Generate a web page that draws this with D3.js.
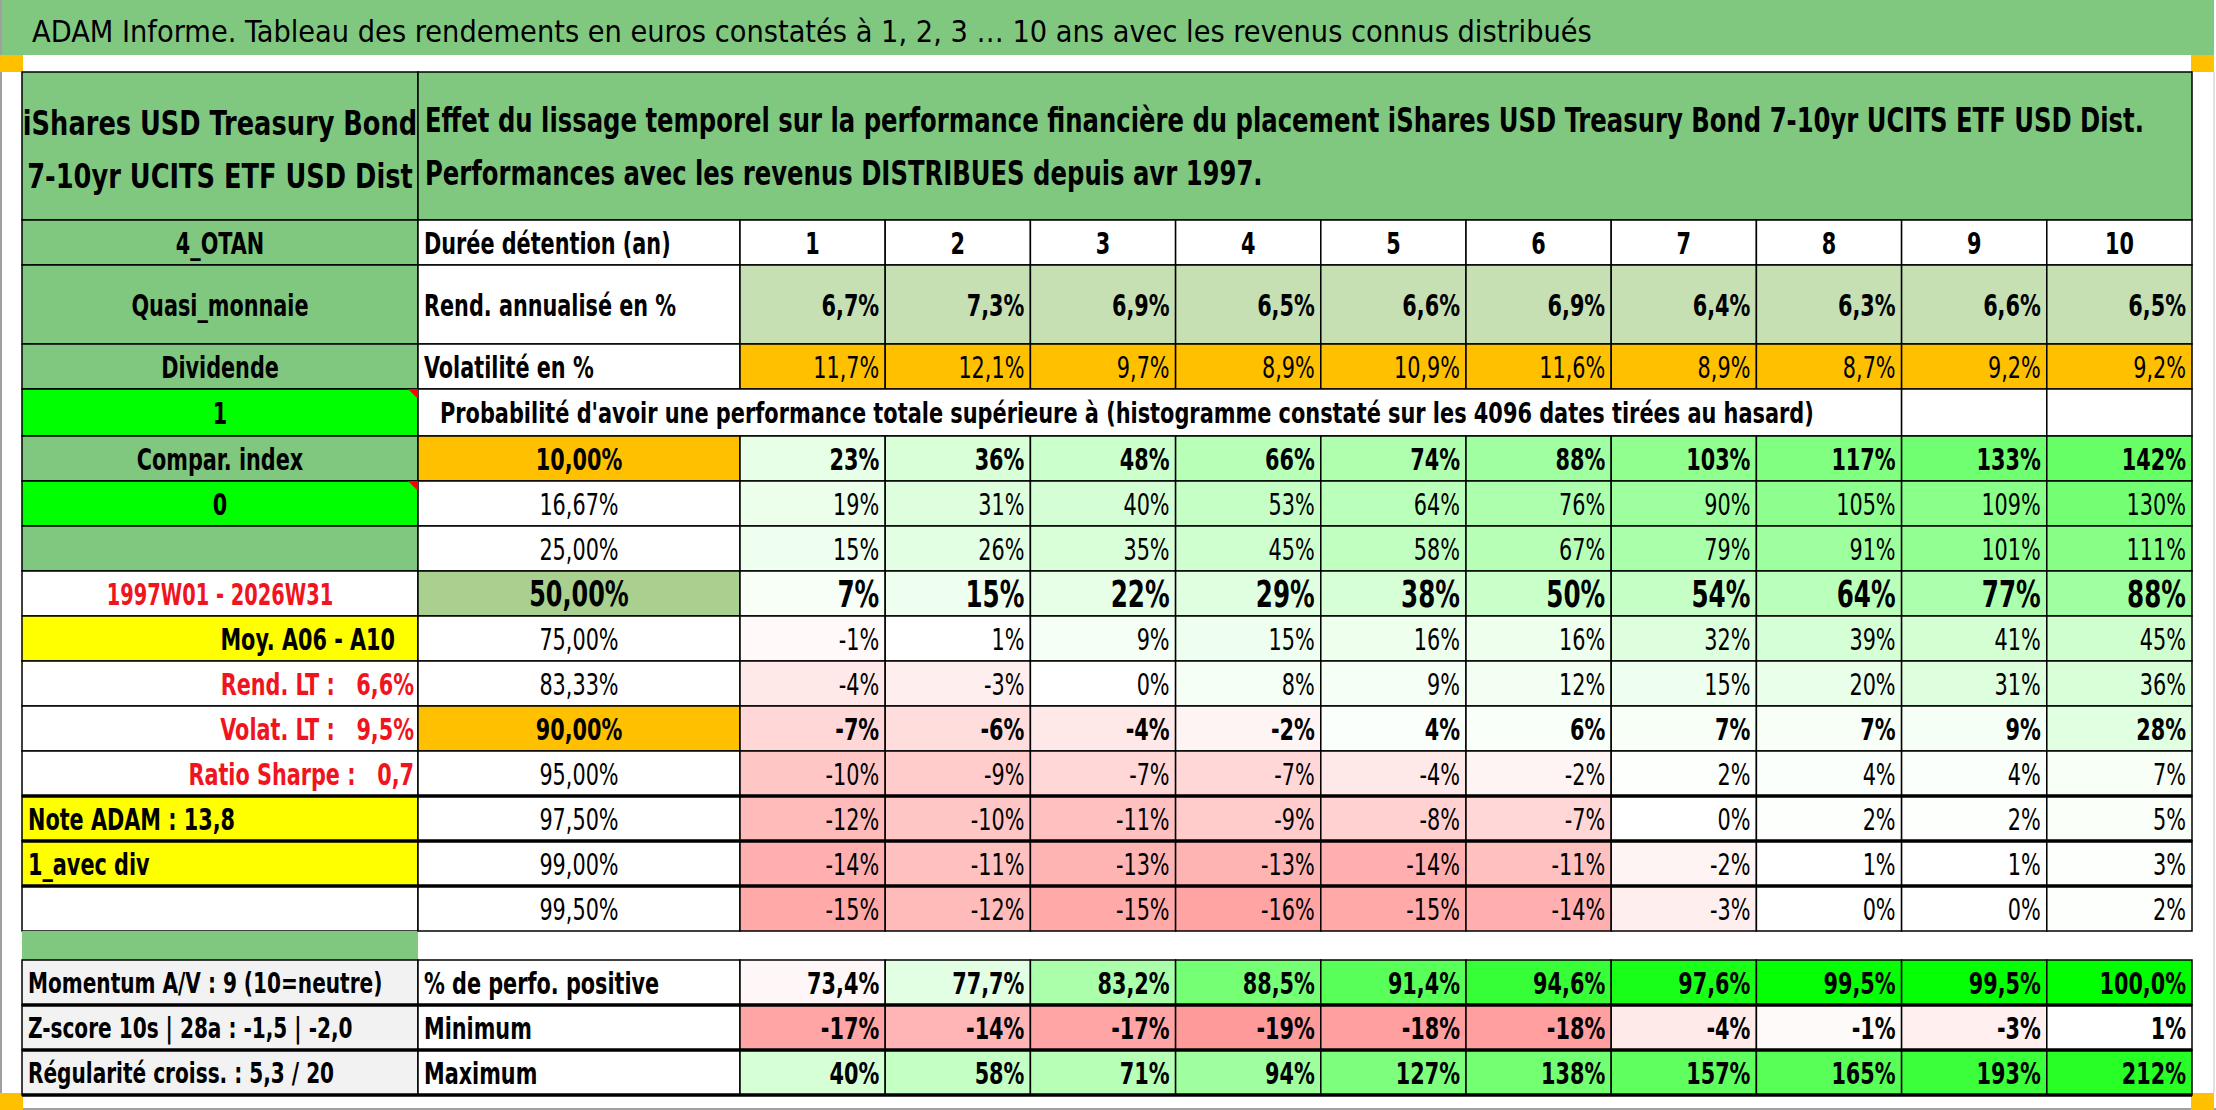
<!DOCTYPE html>
<html lang="fr">
  <head>
    <meta charset="UTF-8" />
    <title>ADAM Informe</title>
    <script src="https://cdn.jsdelivr.net/npm/d3@7"></script>
    <style>
      html,
      body {
        margin: 0;
        padding: 0;
        background: #fff;
      }
      svg {
        display: block;
      }
      text {
        font-family: 'DejaVu Sans Condensed', 'DejaVu Sans', sans-serif;
        white-space: pre;
      }
    </style>
  </head>
  <body>
    <svg id="chart"></svg>
    <script>
      // ---- data ----
      const title =
        'ADAM Informe. Tableau des rendements en euros constatés à 1, 2, 3 … 10 ans avec les revenus connus distribués';
      const fundName = ['iShares USD Treasury Bond', '7-10yr UCITS ETF USD Dist'];
      const headerLines = [
        'Effet du lissage temporel sur la performance financière du placement iShares USD Treasury Bond 7-10yr UCITS ETF USD Dist.',
        'Performances avec les revenus DISTRIBUES depuis avr 1997.'
      ];
      const probText =
        "Probabilité d'avoir une performance totale supérieure à (histogramme constaté sur les 4096 dates tirées au hasard)";

      const years = [1, 2, 3, 4, 5, 6, 7, 8, 9, 10];
      const rowLabels = ['Durée détention (an)', 'Rend. annualisé en %', 'Volatilité en %'];
      const rendAnnualise = [6.7, 7.3, 6.9, 6.5, 6.6, 6.9, 6.4, 6.3, 6.6, 6.5];
      const volatilite = [11.7, 12.1, 9.7, 8.9, 10.9, 11.6, 8.9, 8.7, 9.2, 9.2];

      const quantiles = [10, 16.67, 25, 50, 75, 83.33, 90, 95, 97.5, 99, 99.5];
      const distribution = [
        [23, 36, 48, 66, 74, 88, 103, 117, 133, 142],
        [19, 31, 40, 53, 64, 76, 90, 105, 109, 130],
        [15, 26, 35, 45, 58, 67, 79, 91, 101, 111],
        [7, 15, 22, 29, 38, 50, 54, 64, 77, 88],
        [-1, 1, 9, 15, 16, 16, 32, 39, 41, 45],
        [-4, -3, 0, 8, 9, 12, 15, 20, 31, 36],
        [-7, -6, -4, -2, 4, 6, 7, 7, 9, 28],
        [-10, -9, -7, -7, -4, -2, 2, 4, 4, 7],
        [-12, -10, -11, -9, -8, -7, 0, 2, 2, 5],
        [-14, -11, -13, -13, -14, -11, -2, 1, 1, 3],
        [-15, -12, -15, -16, -15, -14, -3, 0, 0, 2]
      ];

      const statLabels = ['% de perfo. positive', 'Minimum', 'Maximum'];
      const pctPositive = [73.4, 77.7, 83.2, 88.5, 91.4, 94.6, 97.6, 99.5, 99.5, 100.0];
      const minimum = [-17, -14, -17, -19, -18, -18, -4, -1, -3, 1];
      const maximum = [40, 58, 71, 94, 127, 138, 157, 165, 193, 212];

      // left column, top to bottom (after the fund name)
      const sideLabels = [
        '4_OTAN',
        'Quasi_monnaie',
        'Dividende',
        '1',
        'Compar. index',
        '0',
        '',
        '1997W01 - 2026W31',
        'Moy. A06 - A10',
        'Rend. LT :   6,6%',
        'Volat. LT :   9,5%',
        'Ratio Sharpe :   0,7',
        'Note ADAM : 13,8',
        '1_avec div',
        '',
        '',
        'Momentum A/V : 9 (10=neutre)',
        'Z-score 10s | 28a : -1,5 | -2,0',
        'Régularité croiss. : 5,3 / 20'
      ];

      // ---- layout ----
      const W = 2216;
      const H = 1110;
      const GREEN = '#80C880';
      const LIME = '#00FF00';
      const YELLOW = '#FFFF00';
      const ORANGE = '#FFC000';
      const GREY = '#F2F2F2';
      const SQUEEZE = 0.77; // the sheet font is narrower than DejaVu Condensed

      const rowKeys = ['header', 'duree', 'rend', 'vol', 'prob']
        .concat(quantiles.map((q, i) => 'q' + i))
        .concat(['blank', 'pos', 'min', 'max']);
      const rowHeights = [148, 45, 79, 45, 47]
        .concat(quantiles.map(() => 45))
        .concat([29, 45, 45, 45]);
      const tableTop = 72;
      const rowTops = rowHeights.map((h, i) => tableTop + d3.sum(rowHeights.slice(0, i)));

      const y = d3.scaleOrdinal().domain(rowKeys).range(rowTops);
      const rh = d3.scaleOrdinal().domain(rowKeys).range(rowHeights);

      const xCol = d3
        .scaleOrdinal()
        .domain(['side', 'label'])
        .range([22, 418]);
      const wCol = d3
        .scaleOrdinal()
        .domain(['side', 'label'])
        .range([396, 322]);
      const x = d3
        .scaleBand()
        .domain(years)
        .range([740, 2192]);

      const fr = d3.formatLocale({
        decimal: ',',
        thousands: ' ',
        grouping: [3],
        currency: ['', ' €'],
        minus: '-'
      });
      const pct1 = v => fr.format('.1f')(v) + '%';
      const pct2 = v => fr.format('.2f')(v) + '%';
      const pct0 = v => fr.format('d')(v) + '%';

      const distAll = distribution.flat();
      const distColor = d3
        .scaleLinear()
        .domain([d3.min(distAll), 0, d3.max(distAll)])
        .range(['#FFA3A3', '#FFFFFF', '#66FF66'])
        .clamp(true);
      const posColor = d3
        .scaleLinear()
        .domain([50, 75, 100])
        .range(['#FF8080', '#FFFFFF', '#00FF00']);
      const minColor = d3
        .scaleLinear()
        .domain([d3.min(minimum), 0])
        .range(['#FF9A9A', '#FFFFFF'])
        .clamp(true);
      const maxColor = d3
        .scaleLinear()
        .domain([0, 250])
        .range(['#FFFFFF', '#00FF00']);

      const svg = d3
        .select('#chart')
        .attr('width', W)
        .attr('height', H)
        .attr('viewBox', [0, 0, W, H]);

      // title bar, frame and corner marks
      svg
        .append('rect')
        .attr('x', 0)
        .attr('y', 0)
        .attr('width', 2214)
        .attr('height', 55)
        .attr('fill', GREEN);
      svg
        .append('line')
        .attr('x1', 1)
        .attr('x2', 1)
        .attr('y1', 0)
        .attr('y2', H)
        .attr('stroke', '#a0a0a0')
        .attr('stroke-width', 2);
      svg
        .append('line')
        .attr('x1', 0)
        .attr('x2', W)
        .attr('y1', H - 1)
        .attr('y2', H - 1)
        .attr('stroke', '#a0a0a0')
        .attr('stroke-width', 2);
      svg
        .append('line')
        .attr('x1', 2214)
        .attr('x2', 2214)
        .attr('y1', 72)
        .attr('y2', 1093)
        .attr('stroke', '#e0e0e0')
        .attr('stroke-width', 2);
      [
        [0, 55],
        [2191, 55],
        [0, 1093],
        [2191, 1093]
      ].forEach(([cx, cy]) => {
        svg
          .append('rect')
          .attr('x', cx)
          .attr('y', cy)
          .attr('width', 23)
          .attr('height', 17)
          .attr('fill', ORANGE);
      });
      svg
        .append('text')
        .attr('transform', 'translate(32,42) scale(0.995,1)')
        .attr('font-size', 30.5)
        .text(title);

      // ---- build cells ----
      const cells = [];
      const cell = (x0, w, key, o) => cells.push(Object.assign({ x: x0, w: w, y: y(key), h: rh(key) }, o));
      const side = (key, o) => cell(xCol('side'), wCol('side'), key, o);
      const label = (key, o) => cell(xCol('label'), wCol('label'), key, o);
      const yearCells = (key, vals, fmt, o, fillFn) =>
        vals.forEach((v, i) =>
          cell(x(years[i]), x.bandwidth(), key, Object.assign({ text: fmt(v), align: 'end' }, o, fillFn ? { fill: fillFn(v) } : {}))
        );

      // header
      side('header', { fill: GREEN, lines: fundName, align: 'middle', size: 34, k: 0.84, lineY: [135, 188] });
      cell(418, 2192 - 418, 'header', { fill: GREEN, lines: headerLines, align: 'start', size: 34, k: 0.795, lineY: [132, 185], pad: 7 });

      // left column
      const sideStyle = [
        { fill: GREEN, align: 'middle', bold: true },
        { fill: GREEN, align: 'middle', bold: true },
        { fill: GREEN, align: 'middle', bold: true },
        { fill: LIME, align: 'middle', bold: true, note: true },
        { fill: GREEN, align: 'middle', bold: true },
        { fill: LIME, align: 'middle', bold: true, note: true },
        { fill: GREEN },
        { fill: '#FFFFFF', align: 'middle', bold: true, color: '#F0141E', k: 0.72 },
        { fill: YELLOW, align: 'end', bold: true, pad: 23 },
        { fill: '#FFFFFF', align: 'end', bold: true, color: '#F0141E', pad: 4 },
        { fill: '#FFFFFF', align: 'end', bold: true, color: '#F0141E', pad: 4 },
        { fill: '#FFFFFF', align: 'end', bold: true, color: '#F0141E', pad: 4 },
        { fill: YELLOW, align: 'start', bold: true },
        { fill: YELLOW, align: 'start', bold: true },
        { fill: '#FFFFFF' },
        { fill: GREEN, stroke: 'none' },
        { fill: GREY, align: 'start', bold: true, size: 29 },
        { fill: GREY, align: 'start', bold: true, size: 29 },
        { fill: GREY, align: 'start', bold: true, size: 29 }
      ];
      rowKeys.slice(1).forEach((key, i) => side(key, Object.assign({ text: sideLabels[i] }, sideStyle[i])));

      label('duree', { fill: '#FFFFFF', text: rowLabels[0], align: 'start', bold: true });
      label('rend', { fill: '#FFFFFF', text: rowLabels[1], align: 'start', bold: true });
      label('vol', { fill: '#FFFFFF', text: rowLabels[2], align: 'start', bold: true });
      yearCells('duree', years, d => String(d), { align: 'middle', bold: true, fill: '#FFFFFF' });
      yearCells('rend', rendAnnualise, pct1, { bold: true, fill: '#C6E0B4' });
      yearCells('vol', volatilite, pct1, { fill: ORANGE });

      // probability banner
      cell(418, x(9) - 418, 'prob', { fill: '#FFFFFF', text: probText, align: 'start', bold: true, size: 29, k: 0.8, pad: 22 });
      cell(x(9), x.bandwidth(), 'prob', { fill: '#FFFFFF' });
      cell(x(10), x.bandwidth(), 'prob', { fill: '#FFFFFF' });

      // distribution block
      const boldRows = [0, 3, 6];
      quantiles.forEach((q, i) => {
        const key = 'q' + i;
        const bold = boldRows.includes(i);
        const big = i === 3;
        const fill = i === 0 || i === 6 ? ORANGE : big ? '#A9D08E' : '#FFFFFF';
        label(key, { fill: fill, text: pct2(q), align: 'middle', bold: bold, size: big ? 35 : 30, k: big ? 0.76 : SQUEEZE });
        yearCells(key, distribution[i], pct0, { bold: bold, size: big ? 37 : 30, k: big ? 0.74 : SQUEEZE }, distColor);
      });

      // summary block
      label('pos', { fill: '#FFFFFF', text: statLabels[0], align: 'start', bold: true });
      label('min', { fill: '#FFFFFF', text: statLabels[1], align: 'start', bold: true });
      label('max', { fill: '#FFFFFF', text: statLabels[2], align: 'start', bold: true });
      yearCells('pos', pctPositive, pct1, { bold: true }, posColor);
      yearCells('min', minimum, pct0, { bold: true }, minColor);
      yearCells('max', maximum, pct0, { bold: true }, maxColor);

      // ---- draw ----
      const g = svg.append('g');
      g.selectAll('rect.cell')
        .data(cells)
        .enter()
        .append('rect')
        .attr('class', 'cell')
        .attr('x', d => d.x)
        .attr('y', d => d.y)
        .attr('width', d => d.w)
        .attr('height', d => d.h)
        .attr('fill', d => d.fill)
        .attr('stroke', d => d.stroke || '#000')
        .attr('stroke-width', 1.5);

      // comment markers
      g.selectAll('path.note')
        .data(cells.filter(d => d.note))
        .enter()
        .append('path')
        .attr('class', 'note')
        .attr('d', d => `M${d.x + d.w - 10},${d.y} L${d.x + d.w},${d.y} L${d.x + d.w},${d.y + 10} Z`)
        .attr('fill', '#FF0000');

      // thick separators
      const thick = ['q8', 'q9', 'q10', 'min', 'max'];
      g.selectAll('line.thick')
        .data(thick)
        .enter()
        .append('line')
        .attr('class', 'thick')
        .attr('x1', 22)
        .attr('x2', 2192)
        .attr('y1', d => y(d))
        .attr('y2', d => y(d))
        .attr('stroke', '#000')
        .attr('stroke-width', 3.5);
      g.append('line')
        .attr('x1', 22)
        .attr('x2', 2192)
        .attr('y1', y('max') + rh('max'))
        .attr('y2', y('max') + rh('max'))
        .attr('stroke', '#000')
        .attr('stroke-width', 3.5);

      const textX = d => {
        const pad = d.pad != null ? d.pad : 6;
        if (d.align === 'start') return d.x + pad;
        if (d.align === 'end') return d.x + d.w - pad;
        return d.x + d.w / 2;
      };

      g.selectAll('text.val')
        .data(cells.filter(d => d.text))
        .enter()
        .append('text')
        .attr('class', 'val')
        .attr('transform', d => {
          const size = d.size || 30;
          return `translate(${textX(d)},${d.y + d.h / 2 + size * 0.37}) scale(${d.k || SQUEEZE},1)`;
        })
        .attr('text-anchor', d => d.align || 'middle')
        .attr('font-size', d => d.size || 30)
        .attr('font-weight', d => (d.bold ? 'bold' : 'normal'))
        .attr('fill', d => d.color || '#000')
        .text(d => d.text);

      cells
        .filter(d => d.lines)
        .forEach(d => {
          d.lines.forEach((line, i) => {
            g.append('text')
              .attr('transform', `translate(${textX(d)},${d.lineY[i]}) scale(${d.k},1)`)
              .attr('text-anchor', d.align)
              .attr('font-size', d.size)
              .attr('font-weight', 'bold')
              .text(line);
          });
        });
    </script>
  </body>
</html>
